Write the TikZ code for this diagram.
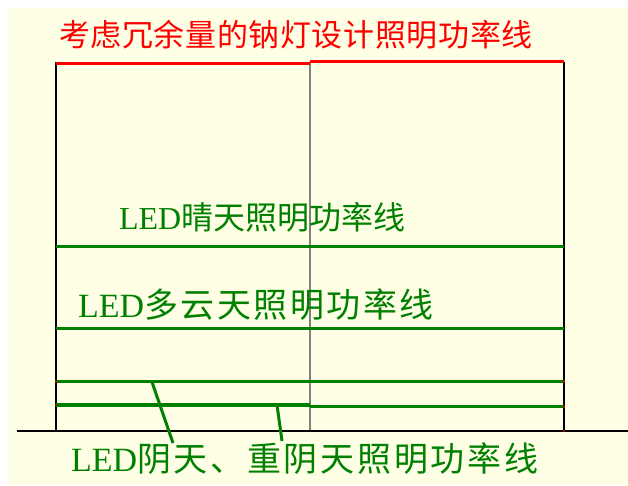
\documentclass[tikz,border=0pt]{standalone}
\usepackage{fontspec}
\setmainfont{Liberation Serif}
\newfontfamily\cjk{Noto Sans CJK SC}
\newfontfamily\cjktitle[LetterSpace=2]{Noto Sans CJK SC}
\newfontfamily\cjkwide[LetterSpace=7.5]{Noto Sans CJK SC}
\newfontfamily\cjkmid[LetterSpace=8]{Noto Sans CJK SC}
\definecolor{bgyellow}{RGB}{255,255,230}
\definecolor{ledgreen}{RGB}{0,128,0}
\definecolor{dotred}{RGB}{170,0,0}
\begin{document}
\begin{tikzpicture}[x=1pt,y=-1pt,
  redline/.style={red, line width=3.2pt},
  greenline/.style={ledgreen, line width=3.6pt},
  frameline/.style={black, line width=1.8pt},
  midline/.style={gray, line width=1.9pt},
  leader/.style={ledgreen, line width=3pt},
  lbl/.style={anchor=base west, inner sep=0pt, outer sep=0pt},
  tick/.style={fill=dotred, inner sep=0pt, minimum size=2.5pt}]
\useasboundingbox (0,0) rectangle (628,485);
\fill[bgyellow] (8,8) rectangle (628,485);
% frame coordinates
\coordinate (TL) at (56,62);   \coordinate (BL) at (56,431);
\coordinate (TM) at (310,62);  \coordinate (BM) at (310,431);
\coordinate (TR) at (564,62);  \coordinate (BR) at (564,431);
\coordinate (G0) at (17,431);  \coordinate (G1) at (628,431);
% verticals and ground
\draw[frameline] (TL) -- (BL);
\draw[frameline] (TR) -- (BR);
\draw[midline] (TM) -- (BM);
\draw[frameline] (G0) -- (G1);
% red line
\coordinate (R0) at (56,63.3);  \coordinate (R1) at (310,63.3);
\coordinate (R2) at (310,61.8); \coordinate (R3) at (564,61.8);
\draw[redline] (R0) -- (R1);
\draw[redline] (R2) -- (R3);
% green lines
\coordinate (A0) at (56,246.5); \coordinate (A1) at (564,246.5);
\coordinate (B0) at (56,328.5); \coordinate (B1) at (564,328.5);
\coordinate (C0) at (56,381.5); \coordinate (C1) at (564,381.5);
\coordinate (D0) at (56,405);   \coordinate (D1) at (310,405);
\coordinate (D2) at (310,406.3);\coordinate (D3) at (564,406.3);
\draw[greenline] (A0) -- (A1);
\draw[greenline] (B0) -- (B1);
\draw[greenline] (C0) -- (C1);
\draw[greenline] (D0) -- (D1);
\draw[greenline] (D2) -- (D3);
% small end ticks
\node[tick] (k1) at (C0) {}; \node[tick] (k2) at (C1) {};
\node[tick] (k3) at (D0) {}; \node[tick] (k4) at (D3) {};
\node[tick] (k5) at (BR) {};
% labels
\node[lbl, text=red, font=\fontsize{31}{31}\selectfont\cjktitle] (title) at (59,46) {考虑冗余量的钠灯设计照明功率线};
\node[lbl, text=ledgreen, font=\fontsize{32}{32}\selectfont] (sunny) at (119,229) {LED{\cjk 晴天照明功率线}};
\node[lbl, text=ledgreen, font=\fontsize{34}{34}\selectfont] (cloudy) at (78,317) {LED{\cjkwide 多云天照明功率线}};
\node[lbl, text=ledgreen, font=\fontsize{34}{34}\selectfont] (overcast) at (71,471) {LED{\cjkmid 阴天、重阴天照明功率线}};
% leaders
\coordinate (L1a) at (152,382); \coordinate (L1b) at (173,443);
\coordinate (L2a) at (277,405); \coordinate (L2b) at (282,441);
\draw[leader] (L1a) -- (L1b);
\draw[leader] (L2a) -- (L2b);
\end{tikzpicture}
\end{document}
